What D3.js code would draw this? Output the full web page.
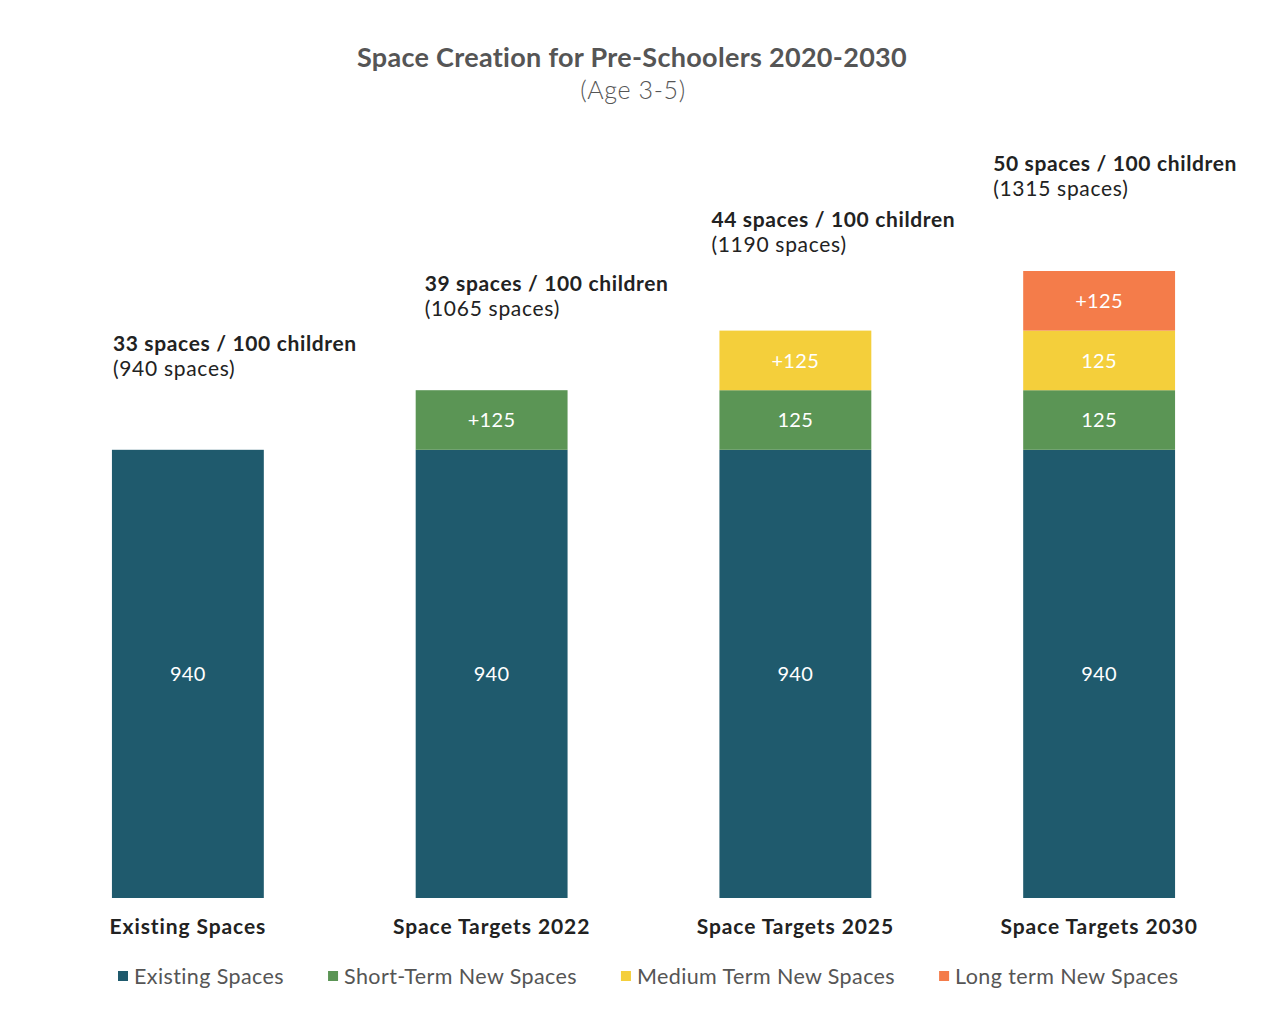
<!DOCTYPE html>
<html>
<head>
<meta charset="utf-8">
<script src="https://cdn.jsdelivr.net/npm/d3@7"></script>
<style>
  html, body { margin: 0; padding: 0; background: #ffffff; }
  svg { display: block; font-family: "Lato", "Open Sans", sans-serif; }
</style>
</head>
<body>
<svg id="chart" width="1276" height="1009"></svg>
<script>
// Pre-school space targets, 2020-2030
const categories = ["Existing Spaces", "Space Targets 2022", "Space Targets 2025", "Space Targets 2030"];
const existingSpaces = [940, 940, 940, 940];
const shortTermSpaces = [0, 125, 125, 125];
const mediumTermSpaces = [0, 0, 125, 125];
const longTermSpaces = [0, 0, 0, 125];
const spacesPer100 = [33, 39, 44, 50];
const seriesNames = ["Existing Spaces", "Short-Term New Spaces", "Medium Term New Spaces", "Long term New Spaces"];
const seriesColors = ["#1f5a6d", "#5b9555", "#f4cf3b", "#f47c4a"];

// placement tweaks of each headline block relative to its bar's top-left corner
const headlineShift = [1, 9, -8, -30];
const headlineLift = [0, 0, 5, 1];

const svg = d3.select("#chart");

const seriesData = [existingSpaces, shortTermSpaces, mediumTermSpaces, longTermSpaces];
const rows = categories.map((c, i) => {
  const r = { category: c };
  seriesNames.forEach((s, k) => r[s] = seriesData[k][i]);
  return r;
});
const totals = categories.map((c, i) => seriesData.reduce((a, s) => a + s[i], 0));

const x = d3.scaleBand().domain(categories).range([36, 1251]).paddingInner(0.5).paddingOuter(0.25);
const y = d3.scaleLinear().domain([0, 1315]).range([898, 271]);

const stacked = d3.stack().keys(seriesNames)(rows);

// Title
svg.append("text").attr("x", 632).attr("y", 67).attr("text-anchor", "middle")
  .attr("font-size", 27).attr("font-weight", 700).attr("fill", "#555")
  .attr("letter-spacing", 0.3)
  .text("Space Creation for Pre-Schoolers 2020-2030");
svg.append("text").attr("x", 633).attr("y", 99).attr("text-anchor", "middle")
  .attr("font-size", 25).attr("font-weight", 300).attr("fill", "#555")
  .attr("letter-spacing", 0.6)
  .text("(Age 3-5)");

// Stacked bars
const layer = svg.append("g").selectAll("g").data(stacked).join("g")
  .attr("fill", (d, i) => seriesColors[i]);
layer.selectAll("rect").data(d => d.filter(p => p[1] > p[0])).join("rect")
  .attr("x", p => x(p.data.category))
  .attr("width", x.bandwidth())
  .attr("y", p => y(p[1]))
  .attr("height", p => y(p[0]) - y(p[1]));

// Segment value labels
stacked.forEach((s, k) => {
  s.forEach((p, i) => {
    const v = p[1] - p[0];
    if (v <= 0) return;
    const isTop = p[1] === totals[i];
    const txt = (k > 0 && isTop) ? "+" + v : String(v);
    svg.append("text")
      .attr("x", x(categories[i]) + x.bandwidth() / 2)
      .attr("y", (y(p[0]) + y(p[1])) / 2)
      .attr("dy", "0.36em")
      .attr("text-anchor", "middle")
      .attr("font-size", 20).attr("fill", "#ffffff")
      .attr("letter-spacing", 0.4)
      .text(txt);
  });
});

// Headline above each bar
categories.forEach((c, i) => {
  const top = y(totals[i]) - headlineLift[i];
  const gx = x(c) + headlineShift[i];
  svg.append("text").attr("x", gx).attr("y", top - 99)
    .attr("font-size", 21).attr("font-weight", 700).attr("fill", "#222")
    .attr("letter-spacing", 0.65)
    .text(spacesPer100[i] + " spaces / 100 children");
  svg.append("text").attr("x", gx).attr("y", top - 74)
    .attr("font-size", 21).attr("font-weight", 400).attr("fill", "#222")
    .attr("letter-spacing", 0.7)
    .text("(" + totals[i] + " spaces)");
});

// Category axis labels
svg.append("g").selectAll("text").data(categories).join("text")
  .attr("x", c => x(c) + x.bandwidth() / 2)
  .attr("y", 934)
  .attr("text-anchor", "middle")
  .attr("font-size", 21).attr("font-weight", 700).attr("fill", "#222")
  .attr("letter-spacing", 0.9)
  .text(c => c);

// Legend
const legend = svg.append("g");
let lx = 118;
seriesNames.forEach((name, k) => {
  legend.append("rect").attr("x", lx).attr("y", 971).attr("width", 10).attr("height", 10)
    .attr("fill", seriesColors[k]);
  const t = legend.append("text").attr("x", lx + 16).attr("y", 984)
    .attr("font-size", 21.5).attr("fill", "#555")
    .attr("letter-spacing", 0.4)
    .text(name);
  lx += 16 + t.node().getComputedTextLength() + 44;
});
</script>
</body>
</html>
